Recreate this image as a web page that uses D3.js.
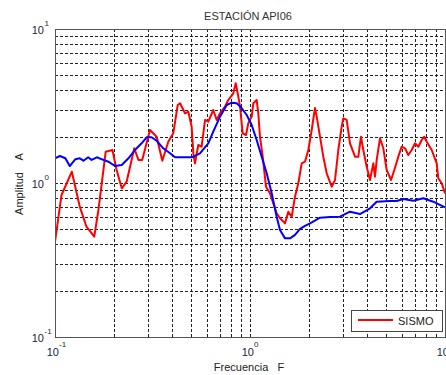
<!DOCTYPE html>
<html>
<head>
<meta charset="utf-8">
<script src="https://cdn.jsdelivr.net/npm/d3@7"></script>
<style>
  body { margin: 0; background: #fff; }
  text { font-family: "Liberation Sans", Arial, sans-serif; }
</style>
</head>
<body>
<div id="chart"></div>
<script>
// SISMO (red) curve
var freqRed = [0.100, 0.108, 0.122, 0.134, 0.145, 0.159, 0.167, 0.182, 0.197, 0.207, 0.220, 0.233,
  0.255, 0.268, 0.280, 0.307, 0.332, 0.355, 0.381, 0.404, 0.426, 0.438, 0.464, 0.483, 0.502, 0.512,
  0.522, 0.543, 0.565, 0.588, 0.611, 0.648, 0.675, 0.702, 0.744, 0.774, 0.821, 0.845, 0.871, 0.889,
  0.917, 0.954, 0.980, 1.020, 1.040, 1.082, 1.103, 1.125, 1.162, 1.208, 1.266, 1.317, 1.370, 1.425,
  1.512, 1.572, 1.636, 1.701, 1.769, 1.841, 1.914, 1.991, 2.072, 2.154, 2.198, 2.286, 2.376, 2.474,
  2.624, 2.729, 2.837, 2.953, 3.010, 3.132, 3.257, 3.455, 3.593, 3.709, 3.811, 3.967, 4.125, 4.289,
  4.375, 4.464, 4.642, 4.827, 5.023, 5.286, 5.495, 5.762, 5.998, 6.236, 6.484, 6.749, 7.017, 7.296,
  7.595, 7.831, 8.058, 8.548, 9.067, 9.239, 9.618, 10.0];
var ampRed = [0.414, 0.836, 1.184, 0.702, 0.520, 0.448, 0.668, 1.597, 1.638, 1.215, 0.924, 1.020,
  1.680, 1.411, 1.411, 2.209, 1.998, 1.396, 1.854, 2.102, 3.211, 3.293, 2.836, 2.904, 2.321, 1.559,
  1.342, 1.765, 1.721, 2.566, 2.500, 2.979, 2.566, 2.836, 3.130, 3.459, 3.824, 4.441, 3.635, 3.130,
  2.102, 2.050, 2.442, 2.696, 3.293, 3.459, 2.836, 1.998, 1.482, 0.946, 0.857, 0.738, 0.636, 0.590,
  0.547, 0.651, 0.604, 0.815, 0.996, 1.342, 1.375, 1.638, 2.209, 3.069, 2.696, 1.998, 1.482, 1.156,
  0.946, 1.046, 1.638, 2.321, 2.631, 2.566, 1.811, 1.482, 1.482, 1.998, 1.638, 1.276, 1.046, 1.342,
  1.099, 1.411, 1.951, 1.680, 1.215, 1.046, 1.215, 1.482, 1.721, 1.680, 1.520, 1.638, 1.811, 1.721,
  1.902, 1.998, 1.854, 1.638, 1.342, 1.073, 0.996, 0.857];

// blue curve
var freqBlue = [0.100, 0.106, 0.113, 0.119, 0.127, 0.134, 0.140, 0.148, 0.154, 0.164, 0.174, 0.188,
  0.203, 0.220, 0.238, 0.257, 0.278, 0.295, 0.313, 0.332, 0.359, 0.389, 0.413, 0.464, 0.502, 0.554,
  0.611, 0.648, 0.702, 0.760, 0.806, 0.855, 0.907, 0.962, 1.020, 1.082, 1.148, 1.218, 1.292, 1.370,
  1.425, 1.512, 1.604, 1.701, 1.806, 1.914, 2.031, 2.286, 2.572, 2.894, 3.257, 3.665, 4.125, 4.464,
  5.224, 5.654, 6.113, 6.879, 7.739, 8.710, 10.0];
var ampBlue = [1.447, 1.497, 1.447, 1.289, 1.425, 1.447, 1.396, 1.469, 1.411, 1.469, 1.425, 1.375,
  1.289, 1.309, 1.447, 1.638, 1.811, 1.981, 1.981, 1.882, 1.680, 1.559, 1.469, 1.469, 1.469, 1.559,
  1.811, 2.153, 2.696, 3.211, 3.322, 3.293, 3.055, 2.764, 2.381, 1.902, 1.482, 1.156, 0.857, 0.604,
  0.495, 0.437, 0.437, 0.460, 0.503, 0.526, 0.546, 0.595, 0.601, 0.604, 0.651, 0.629, 0.685, 0.756,
  0.764, 0.764, 0.787, 0.767, 0.796, 0.756, 0.695];

var majorTicks = [0.1, 1, 10];
var tickExp = ["-1", "0", "1"];
var gridVals = [0.2, 0.3, 0.4, 0.5, 0.6, 0.7, 0.8, 0.9, 1, 2, 3, 4, 5, 6, 7, 8, 9];

var width = 446, height = 375;
var plotL = 55, plotR = 445, plotT = 29, plotB = 337;

var svg = d3.select("#chart").append("svg")
    .attr("width", width)
    .attr("height", height);

svg.append("rect").attr("width", width).attr("height", height).attr("fill", "#fff");

var x = d3.scaleLog().domain([0.1, 10]).range([plotL, plotR]);
var y = d3.scaleLog().domain([0.1, 10]).range([plotB, plotT]);

// grid
var gx = svg.append("g")
    .attr("transform", "translate(0," + plotB + ")")
    .call(d3.axisBottom(x).tickValues(gridVals).tickSize(-(plotB - plotT)).tickFormat(""));
var gy = svg.append("g")
    .attr("transform", "translate(" + plotL + ",0)")
    .call(d3.axisLeft(y).tickValues(gridVals).tickSize(-(plotR - plotL)).tickFormat(""));
[gx, gy].forEach(function(g) {
    g.select(".domain").remove();
    g.selectAll("line")
        .attr("stroke", "#222")
        .attr("stroke-width", 1)
        .attr("stroke-dasharray", "3,2")
        .attr("shape-rendering", "crispEdges");
});

// curves
svg.append("clipPath").attr("id", "clip")
    .append("rect").attr("x", plotL).attr("y", plotT)
    .attr("width", plotR - plotL).attr("height", plotB - plotT);

var line = d3.line()
    .x(function(d) { return x(d[0]); })
    .y(function(d) { return y(d[1]); });

svg.append("path")
    .datum(d3.zip(freqRed, ampRed))
    .attr("clip-path", "url(#clip)")
    .attr("fill", "none")
    .attr("stroke", "#ff0000")
    .attr("stroke-width", 2)
    .attr("stroke-linejoin", "round")
    .attr("d", line);

svg.append("path")
    .datum(d3.zip(freqBlue, ampBlue))
    .attr("clip-path", "url(#clip)")
    .attr("fill", "none")
    .attr("stroke", "#0000ff")
    .attr("stroke-width", 2)
    .attr("stroke-linejoin", "round")
    .attr("d", line);

// box
svg.append("rect")
    .attr("x", plotL).attr("y", plotT)
    .attr("width", plotR - plotL).attr("height", plotB - plotT)
    .attr("fill", "none")
    .attr("stroke", "#555")
    .attr("stroke-width", 1)
    .attr("shape-rendering", "crispEdges");

// tick labels, 10 with superscript
var ax = svg.append("g")
    .attr("transform", "translate(0," + plotB + ")")
    .call(d3.axisBottom(x).tickValues(majorTicks).tickSize(0).tickFormat(""));
ax.select(".domain").remove();
ax.selectAll(".tick").each(function(d, i) {
    var t = d3.select(this);
    t.append("text").attr("x", 3.5).attr("y", 18.5)
        .attr("text-anchor", "end").attr("font-size", 11).attr("fill", "#1c1c3a")
        .text("10");
    t.append("text").attr("x", 3.5).attr("y", 10)
        .attr("text-anchor", "start").attr("font-size", 8).attr("fill", "#1c1c3a")
        .text(tickExp[i]);
});

var ay = svg.append("g")
    .attr("transform", "translate(" + plotL + ",0)")
    .call(d3.axisLeft(y).tickValues(majorTicks).tickSize(0).tickFormat(""));
ay.select(".domain").remove();
ay.selectAll(".tick").each(function(d, i) {
    var t = d3.select(this);
    t.append("text").attr("x", -11).attr("y", 4)
        .attr("text-anchor", "end").attr("font-size", 11).attr("fill", "#1c1c3a")
        .text("10");
    t.append("text").attr("x", -10.5).attr("y", -4)
        .attr("text-anchor", "start").attr("font-size", 8).attr("fill", "#1c1c3a")
        .text(tickExp[i]);
});

// title and axis labels
svg.append("text")
    .attr("x", 248).attr("y", 20)
    .attr("text-anchor", "middle")
    .attr("font-size", 11).attr("fill", "#333")
    .text("ESTACIÓN API06");

svg.append("text")
    .attr("x", 249).attr("y", 371)
    .attr("text-anchor", "middle")
    .attr("font-size", 11).attr("fill", "#222")
    .style("white-space", "pre")
    .text("Frecuencia   F");

svg.append("text")
    .attr("transform", "translate(23,184) rotate(-90)")
    .attr("text-anchor", "middle")
    .attr("font-size", 11).attr("fill", "#222")
    .style("white-space", "pre")
    .text("Amplitud    A");

// legend
var lg = svg.append("g");
lg.append("rect")
    .attr("x", 351).attr("y", 310).attr("width", 91).attr("height", 21)
    .attr("fill", "#fff").attr("stroke", "#444").attr("stroke-width", 1)
    .attr("shape-rendering", "crispEdges");
lg.append("line")
    .attr("x1", 358).attr("x2", 393).attr("y1", 320).attr("y2", 320)
    .attr("stroke", "#ff0000").attr("stroke-width", 2);
lg.append("text")
    .attr("x", 398).attr("y", 325)
    .attr("font-size", 11).attr("fill", "#222")
    .text("SISMO");
</script>
</body>
</html>
